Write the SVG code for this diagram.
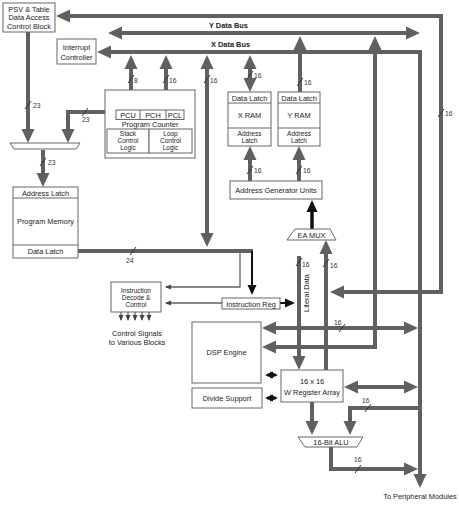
<svg xmlns="http://www.w3.org/2000/svg" width="459" height="506" viewBox="0 0 459 506">
<style>
.box{fill:#fff;stroke:#666;stroke-width:1}
.t{font-family:"Liberation Sans",Arial,sans-serif;font-size:7.4px;fill:#222;text-anchor:middle}
.s{font-size:6.5px}
.b{font-weight:bold;text-anchor:start}
.l{font-family:"Liberation Sans",Arial,sans-serif;font-size:6.8px;fill:#333}
.bus{fill:none;stroke:#606060;stroke-width:4}
.thin{fill:none;stroke:#606060;stroke-width:1.3}
.blk{fill:none;stroke:#111;stroke-width:2}
.sl{stroke:#333;stroke-width:1}
</style>
<defs>
<marker id="ag" markerUnits="userSpaceOnUse" markerWidth="14" markerHeight="14" viewBox="0 0 14 14" refX="9" refY="7" orient="auto-start-reverse"><path d="M0,0.5 L14,7 L0,13.5 z" fill="#606060"/></marker>
<marker id="ab" markerUnits="userSpaceOnUse" markerWidth="12" markerHeight="12" viewBox="0 0 12 12" refX="8" refY="6" orient="auto-start-reverse"><path d="M0,0.5 L12,6 L0,11.5 z" fill="#111"/></marker>
<marker id="am" markerUnits="userSpaceOnUse" markerWidth="10" markerHeight="10" viewBox="0 0 10 10" refX="7" refY="5" orient="auto-start-reverse"><path d="M0,0.5 L10,5 L0,9.5 z" fill="#111"/></marker>
<marker id="as" markerUnits="userSpaceOnUse" markerWidth="8" markerHeight="8" viewBox="0 0 8 8" refX="6" refY="4" orient="auto-start-reverse"><path d="M0,0.5 L8,4 L0,7.5 z" fill="#111"/></marker>
<marker id="at" markerUnits="userSpaceOnUse" markerWidth="6" markerHeight="6" viewBox="0 0 6 6" refX="5" refY="3" orient="auto-start-reverse"><path d="M0,0.5 L6,3 L0,5.5 z" fill="#444"/></marker>
</defs>

<g id="connectors">
<path class="bus" d="M335,292 H441 V16 H61" marker-start="url(#ag)" marker-end="url(#ag)"/>
<path class="bus" d="M113,33 H415" marker-start="url(#ag)" marker-end="url(#ag)"/>
<path class="bus" d="M102,52 H420 V483" marker-start="url(#ag)" marker-end="url(#ag)"/>
<path class="bus" d="M131,60 V105" marker-start="url(#ag)" marker-end="url(#ag)"/>
<path class="bus" d="M166,60 V105" marker-start="url(#ag)" marker-end="url(#ag)"/>
<path class="bus" d="M207,60 V242" marker-start="url(#ag)" marker-end="url(#ag)"/>
<path class="bus" d="M250,60 V87" marker-start="url(#ag)" marker-end="url(#ag)"/>
<path class="bus" d="M300,92 V41" marker-end="url(#ag)"/>
<path class="bus" d="M250,181 V151" marker-end="url(#ag)"/>
<path class="bus" d="M299,181 V151" marker-end="url(#ag)"/>
<path fill="none" stroke="#111" stroke-width="3.5" d="M312,229 V204" marker-end="url(#ab)"/>
<path class="bus" d="M28,31 V138" marker-end="url(#ag)"/>
<path class="bus" d="M105,112 H68 V138" marker-end="url(#ag)"/>
<path class="bus" d="M43,150 V182" marker-end="url(#ag)"/>
<path class="bus" d="M78,251 H253"/>
<path class="thin" d="M240,251 V287 H166" marker-end="url(#at)"/>
<path class="blk" d="M252,251 V292" marker-end="url(#am)"/>
<path class="thin" d="M222,303 H166" marker-end="url(#at)"/>
<path class="blk" d="M280,303 H292" marker-end="url(#am)"/>
<path class="bus" d="M299,256 V365" marker-end="url(#ag)"/>
<path class="bus" d="M326,370 V245" marker-end="url(#ag)"/>
<path class="bus" d="M267,328 H413" marker-start="url(#ag)" marker-end="url(#ag)"/>
<path class="bus" d="M267,347 H375 V41" marker-start="url(#ag)" marker-end="url(#ag)"/>
<path fill="none" stroke="#111" stroke-width="2.5" d="M267,375 H276" marker-start="url(#as)" marker-end="url(#as)"/>
<path fill="none" stroke="#111" stroke-width="2.5" d="M267,398 H276" marker-start="url(#as)" marker-end="url(#as)"/>
<path class="bus" d="M349,387 H413" marker-start="url(#ag)" marker-end="url(#ag)"/>
<path class="bus" d="M420,408 H350 V430" marker-end="url(#ag)"/>
<path class="bus" d="M312,402 V430" marker-end="url(#ag)"/>
<path class="bus" d="M331,447 V469 H413" marker-end="url(#ag)"/>
<g class="thin" stroke="#333" stroke-width="1">
<path d="M121,312 V320" marker-end="url(#at)"/>
<path d="M128,312 V320" marker-end="url(#at)"/>
<path d="M135,312 V320" marker-end="url(#at)"/>
<path d="M142,312 V320" marker-end="url(#at)"/>
<path d="M149,312 V320" marker-end="url(#at)"/>
</g>
<g class="sl">
<line x1="128" y1="83" x2="134" y2="75"/>
<line x1="163" y1="83" x2="169" y2="75"/>
<line x1="204" y1="83" x2="210" y2="75"/>
<line x1="247" y1="79" x2="253" y2="71"/>
<line x1="297" y1="86" x2="303" y2="78"/>
<line x1="247" y1="174" x2="253" y2="166"/>
<line x1="296" y1="174" x2="302" y2="166"/>
<line x1="25" y1="109" x2="31" y2="101"/>
<line x1="82" y1="116" x2="88" y2="108"/>
<line x1="40" y1="166" x2="46" y2="158"/>
<line x1="130" y1="255" x2="136" y2="247"/>
<line x1="296" y1="266" x2="302" y2="258"/>
<line x1="323" y1="267" x2="329" y2="259"/>
<line x1="339" y1="332" x2="345" y2="324"/>
<line x1="438" y1="117" x2="444" y2="109"/>
<line x1="365" y1="412" x2="371" y2="404"/>
<line x1="355" y1="473" x2="361" y2="465"/>
</g>
<g class="l">
<text x="134" y="83">8</text>
<text x="169" y="83">16</text>
<text x="210" y="83">16</text>
<text x="254" y="78">16</text>
<text x="304" y="85">16</text>
<text x="254" y="173">16</text>
<text x="303" y="173">16</text>
<text x="33" y="108">23</text>
<text x="82" y="122">23</text>
<text x="48" y="165">23</text>
<text x="126" y="263">24</text>
<text x="302" y="267">16</text>
<text x="330" y="268">16</text>
<text x="334" y="325">16</text>
<text x="445" y="116">16</text>
<text x="362" y="403">16</text>
<text x="354" y="462">16</text>
</g>
<text class="t b" x="209" y="28">Y Data Bus</text>
<text class="t b" x="211" y="47">X Data Bus</text>
<text class="t" x="0" y="0" transform="translate(308.5,293) rotate(-90)">Literal Data</text>
<text class="t" x="137" y="336">Control Signals</text>
<text class="t" x="137" y="344.5">to Various Blocks</text>
<text class="t" x="420" y="499">To Peripheral Modules</text>
</g>

<g id="psv">
<rect class="box" x="3" y="3" width="52" height="29"/>
<text class="t" x="29" y="11.5">PSV &amp; Table</text>
<text class="t" x="29" y="20">Data Access</text>
<text class="t" x="29" y="28.5">Control Block</text>
</g>
<g id="interrupt">
<rect class="box" x="57" y="39" width="39" height="25"/>
<text class="t" x="76.5" y="50">Interrupt</text>
<text class="t" x="76.5" y="59.5">Controller</text>
</g>
<g id="program-counter">
<rect class="box" x="105" y="90" width="90" height="68"/>
<rect class="box" x="116" y="110" width="68" height="9.5"/>
<line class="box" x1="140" y1="110" x2="140" y2="119.5"/>
<line class="box" x1="166" y1="110" x2="166" y2="119.5"/>
<text class="t" x="128" y="117.5">PCU</text>
<text class="t" x="153" y="117.5">PCH</text>
<text class="t" x="175" y="117.5">PCL</text>
<text class="t" x="150" y="127">Program Counter</text>
<rect class="box" x="107" y="129" width="42" height="24"/>
<rect class="box" x="149" y="129" width="43" height="24"/>
<text class="t s" x="128" y="135.5">Stack</text>
<text class="t s" x="128" y="142.5">Control</text>
<text class="t s" x="128" y="149.5">Logic</text>
<text class="t s" x="170.5" y="135.5">Loop</text>
<text class="t s" x="170.5" y="142.5">Control</text>
<text class="t s" x="170.5" y="149.5">Logic</text>
</g>
<g id="addr-mux">
<polygon points="10,143 80,143 76,149 14,149" fill="#fff" stroke="#666" stroke-width="1"/>
</g>
<g id="program-memory">
<rect class="box" x="13" y="187" width="65" height="71"/>
<line class="box" x1="13" y1="198" x2="78" y2="198"/>
<line class="box" x1="13" y1="245" x2="78" y2="245"/>
<text class="t" x="45.5" y="195.5">Address Latch</text>
<text class="t" x="45.5" y="224">Program Memory</text>
<text class="t" x="45.5" y="254">Data Latch</text>
</g>
<g id="x-ram">
<rect class="box" x="228" y="92" width="43" height="54"/>
<line class="box" x1="228" y1="103" x2="271" y2="103"/>
<line class="box" x1="228" y1="128" x2="271" y2="128"/>
<text class="t" x="249.5" y="100.5">Data Latch</text>
<text class="t" x="249.5" y="118">X RAM</text>
<text class="t s" x="249.5" y="135.5">Address</text>
<text class="t s" x="249.5" y="143">Latch</text>
</g>
<g id="y-ram">
<rect class="box" x="278" y="92" width="42" height="54"/>
<line class="box" x1="278" y1="103" x2="320" y2="103"/>
<line class="box" x1="278" y1="128" x2="320" y2="128"/>
<text class="t" x="299" y="100.5">Data Latch</text>
<text class="t" x="299" y="118">Y RAM</text>
<text class="t s" x="299" y="135.5">Address</text>
<text class="t s" x="299" y="143">Latch</text>
</g>
<g id="agu">
<rect class="box" x="230" y="181" width="92" height="18"/>
<text class="t" x="276" y="192.5">Address Generator Units</text>
</g>
<g id="ea-mux">
<polygon points="295,229 330,229 336,240 287,240" fill="#fff" stroke="#666" stroke-width="1"/>
<text class="t" x="311.5" y="237.5">EA MUX</text>
</g>
<g id="instr-decode">
<rect class="box" x="111" y="282" width="50" height="30"/>
<text class="t s" x="136" y="292.5">Instruction</text>
<text class="t s" x="136" y="299.5">Decode &amp;</text>
<text class="t s" x="136" y="306.5">Control</text>
</g>
<g id="instr-reg">
<rect class="box" x="222" y="298" width="58" height="11"/>
<text class="t" x="251" y="306.5">Instruction Reg</text>
</g>
<g id="dsp-engine">
<rect class="box" x="192" y="322" width="69" height="61"/>
<text class="t" x="226.5" y="355">DSP Engine</text>
</g>
<g id="divide-support">
<rect class="box" x="192" y="388" width="70" height="20"/>
<text class="t" x="227" y="400.5">Divide Support</text>
</g>
<g id="w-array">
<rect class="box" x="281" y="370" width="62" height="32"/>
<text class="t" x="312" y="384">16 x 16</text>
<text class="t" x="312" y="394.5">W Register Array</text>
</g>
<g id="alu">
<polygon points="298,437 363,437 357,447 305,447" fill="#fff" stroke="#666" stroke-width="1"/>
<text class="t" x="331" y="445">16-Bit ALU</text>
</g>
</svg>
